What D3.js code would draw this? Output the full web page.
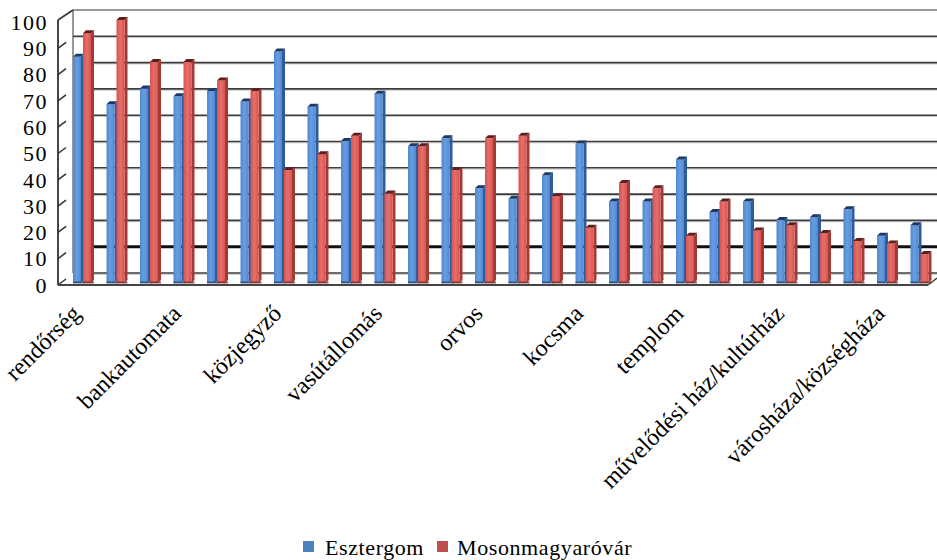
<!DOCTYPE html>
<html><head><meta charset="utf-8">
<script src="https://cdnjs.cloudflare.com/ajax/libs/d3/7.8.5/d3.min.js"></script>
<style>html,body{margin:0;padding:0;background:#fff;}svg{display:block;}
text{font-family:"Liberation Serif","Times New Roman",Times,serif;}</style>
</head><body><svg id="c" width="937" height="560"></svg>
<script>
const categories = ["rendőrség","posta","bank","bankautomata","gyógyszertár","iskola","közjegyző","óvoda","bolt","vasútállomás","buszmegálló","étterem","orvos","fogorvos","könyvtár","kocsma","piac","sportpálya","templom","játszótér","park","művelődési ház/kultúrház","benzinkút","szálloda","városháza/községháza","mozi"];
const esztergom = [86,68,74,71,73,69,88,67,54,72,52,55,36,32,41,53,31,31,47,27,31,24,25,28,18,22];
const moson     = [95,100,84,84,77,73,43,49,56,34,52,43,55,56,33,21,38,36,18,31,20,22,19,16,15,11];
const seriesNames = ["Esztergom","Mosonmagyaróvár"];
const yTicks = [0,10,20,30,40,50,60,70,80,90,100];

const svg = d3.select("#c");
const W = 937;
const backX0 = 73, frontX0 = 58;
const yBack  = d3.scaleLinear().domain([0,100]).range([273,10]);
const yFront = d3.scaleLinear().domain([0,100]).range([285,22]);
const yBar   = d3.scaleLinear().domain([0,100]).range([283,20]);
const x = d3.scaleBand().domain(d3.range(categories.length)).range([66.25,937.25]).padding(0);

yTicks.forEach(v=>{
  const yy = yBack(v);
  if (v===10){
    svg.append("line").attr("x1",backX0).attr("x2",W).attr("y1",yy).attr("y2",yy).attr("stroke","#111").attr("stroke-width",3);
  } else if (v===100){
    svg.append("line").attr("x1",backX0).attr("x2",W).attr("y1",yy).attr("y2",yy).attr("stroke","#777").attr("stroke-width",1.3);
  } else {
    svg.append("line").attr("x1",backX0).attr("x2",W).attr("y1",yy+1.3).attr("y2",yy+1.3).attr("stroke","#c8c8c8").attr("stroke-width",1);
    svg.append("line").attr("x1",backX0).attr("x2",W).attr("y1",yy).attr("y2",yy).attr("stroke","#3c3c3c").attr("stroke-width",1.6);
  }
});
svg.append("line").attr("x1",backX0).attr("x2",backX0).attr("y1",yBack(100)).attr("y2",yBack(0)).attr("stroke","#555").attr("stroke-width",1.2);
svg.append("line").attr("x1",frontX0).attr("x2",frontX0).attr("y1",yFront(100)-2).attr("y2",yFront(0)).attr("stroke","#333").attr("stroke-width",1.8);
svg.append("line").attr("x1",frontX0).attr("x2",backX0).attr("y1",yFront(100)-2).attr("y2",yBack(100)).attr("stroke","#333").attr("stroke-width",1.6);
yTicks.forEach(v=>{
  if (v===100) return;
  svg.append("line").attr("x1",frontX0).attr("x2",frontX0+8).attr("y1",yFront(v)).attr("y2",yFront(v)-6).attr("stroke","#333").attr("stroke-width",1.5);
});
svg.append("line").attr("x1",frontX0).attr("x2",928).attr("y1",285).attr("y2",285).attr("stroke","#444").attr("stroke-width",1.8);
svg.append("line").attr("x1",928).attr("x2",937).attr("y1",285).attr("y2",278).attr("stroke","#444").attr("stroke-width",1.5);

const colors = [
  {front:"#4f88d2", light:"#6a9de0", side:"#2e5c99", top:"#1d3a66"},
  {front:"#d9534f", light:"#e4706b", side:"#a33a36", top:"#5e1f1d"}
];
const defs = svg.append("defs");
colors.forEach((c,i)=>{
  const g = defs.append("linearGradient").attr("id","g"+i).attr("x1","0").attr("x2","1").attr("y1","0").attr("y2","0");
  g.append("stop").attr("offset","0").attr("stop-color",c.front);
  g.append("stop").attr("offset","0.5").attr("stop-color",c.light);
  g.append("stop").attr("offset","1").attr("stop-color",c.front);
});
const bw = 8, dep = 3;
const series = [esztergom, moson];
const gb = svg.append("g");
categories.forEach((cat,i)=>{
  const cx = x(i) + x.bandwidth()/2;
  series.forEach((vals,s)=>{
    const x0 = s===0 ? cx-10 : cx;
    const top = yBar(vals[i]), base = yBar(0);
    const c = colors[s];
    gb.append("path").attr("d",`M${x0+bw},${top}L${x0+bw+dep},${top-dep}L${x0+bw+dep},${base-dep}L${x0+bw},${base}Z`).attr("fill",c.side);
    gb.append("rect").attr("x",x0).attr("y",top).attr("width",bw).attr("height",base-top).attr("fill",`url(#g${s})`);
    gb.append("path").attr("d",`M${x0},${top}L${x0+bw},${top}L${x0+bw+dep},${top-dep}L${x0+dep},${top-dep}Z`).attr("fill",c.top);
    gb.append("rect").attr("x",x0).attr("y",base-1.5).attr("width",bw+dep).attr("height",2).attr("fill",c.top).attr("opacity",0.7);
  });
});

yTicks.forEach(v=>{
  svg.append("text").attr("x",48).attr("y",yFront(v)).attr("dy","0.35em").attr("text-anchor","end")
    .attr("font-size",22).attr("letter-spacing",1.5).attr("fill","#000").text(v);
});
categories.forEach((cat,i)=>{
  if (i%3!==0) return;
  const cx = x(i) + x.bandwidth()/2;
  svg.append("text").attr("transform",`translate(${cx-1},315) rotate(-45)`).attr("text-anchor","end")
    .attr("font-size",24).attr("fill","#000").text(cat);
});
const legX = [303,437], legTX = [325,457];
seriesNames.forEach((n,s)=>{
  svg.append("rect").attr("x",legX[s]).attr("y",541).attr("width",11).attr("height",11).attr("fill",s===0?"#4f81bd":"#c0504d");
  svg.append("text").attr("x",legTX[s]).attr("y",555).attr("font-size",22).attr("letter-spacing",0.6).attr("fill","#000").text(n);
});
</script></body></html>
